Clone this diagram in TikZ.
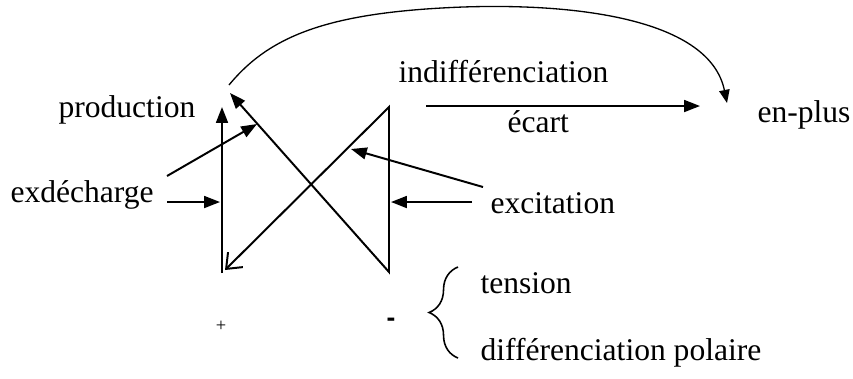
\documentclass[tikz,border=0pt]{standalone}
\usepackage{fontspec}
\setmainfont{Liberation Serif}
\newfontfamily\sansdash{Liberation Sans}
\usetikzlibrary{arrows.meta,decorations.pathreplacing}

\begin{document}
\begin{tikzpicture}[x=0.38pt,y=-0.38pt,
  lbl/.style={anchor=base west, inner sep=0pt, font=\fontsize{12}{14}\selectfont},
  fleche/.style={line width=0.75pt, -{Triangle[length=6pt,width=4.5pt]}}]
\useasboundingbox (0,0) rectangle (853,378);
% sommets du schema
\coordinate (hg) at (222,107); \coordinate (bg) at (222,273);
\coordinate (hd) at (389,107); \coordinate (bd) at (389,272);
\coordinate (pt) at (230,93); \coordinate (ot) at (225,270);
\coordinate (e1) at (167,176); \coordinate (p1) at (257,124);
\coordinate (e2) at (167,202); \coordinate (g2) at (220,202);
\coordinate (x1) at (483,187); \coordinate (q1) at (351,149);
\coordinate (x2) at (472,202); \coordinate (d2) at (391,202);
\coordinate (a1) at (426,106); \coordinate (a2) at (700,106);
\coordinate (c1) at (229,85); \coordinate (c2) at (727,103);
% textes
\node[lbl] (prod) at (58,117) {production};
\node[lbl] (exd) at (10,202) {exdécharge};
\node[lbl] (indif) at (398,82) {indifférenciation};
\node[lbl] (ecart) at (507,132) {écart};
\node[lbl] (enplus) at (757,122) {en-plus};
\node[lbl] (excit) at (490,213) {excitation};
\node[lbl] (tens) at (480,293) {tension};
\node[lbl] (difpol) at (480,360) {différenciation polaire};
\node[inner sep=0pt, font=\fontsize{7}{8}\selectfont] (plus) at (221,326) {+};
\node[inner sep=0pt, font=\sansdash\bfseries\fontsize{10}{12}\selectfont] (moins) at (391,322) {-};
% fleches
\draw[fleche] (bg) -- (hg);
\draw[line width=0.75pt, {Triangle[length=6pt,width=4.5pt]}-{Straight Barb[length=5pt,width=8pt]}] (pt) -- (bd) -- (hd) -- (ot);
\draw[fleche] (e1) -- (p1);
\draw[fleche] (e2) -- (g2);
\draw[fleche] (x1) -- (q1);
\draw[fleche] (x2) -- (d2);
\draw[fleche] (a1) -- (a2);
\draw[line width=0.5pt, -{Triangle[length=5pt,width=4pt]}] (c1) .. controls (270,35) and (330,12) .. (463,7) .. controls (580,3) and (710,20) .. (c2);
\draw[line width=0.6pt, decorate, decoration={brace, amplitude=11pt}] (458,358) -- (458,267);
\end{tikzpicture}
\end{document}
